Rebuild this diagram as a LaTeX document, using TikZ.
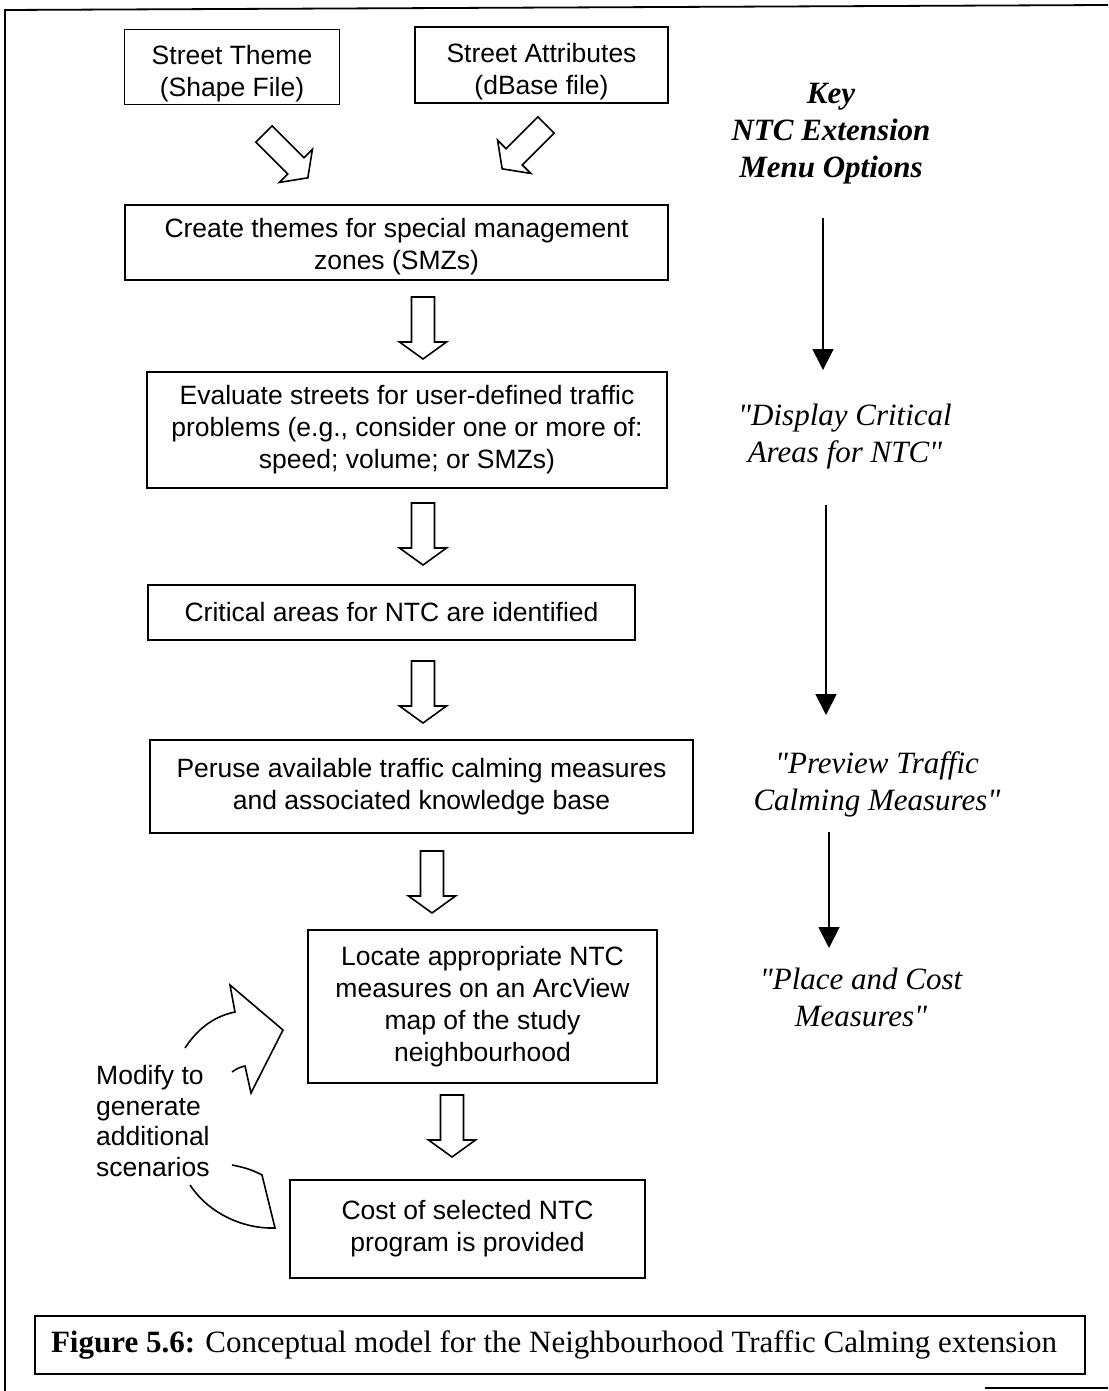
\documentclass[tikz,border=0pt]{standalone}
\usepackage{fontspec}
\setmainfont{Liberation Serif}
\newfontfamily\arialf{Liberation Sans}
\usetikzlibrary{arrows.meta}
\begin{document}
\begin{tikzpicture}[x=1pt,y=-1pt,
  box/.style={draw, line width=1.8pt, align=center, inner sep=0pt,
    font=\arialf\fontsize{26.5}{32}\selectfont},
  boxtxt/.style={align=center, inner sep=0pt, font=\arialf\fontsize{26.5}{32}\selectfont},
  keytxt/.style={align=center, font=\fontsize{31}{37}\selectfont\bfseries\itshape},
  opttxt/.style={align=center, font=\fontsize{31}{37}\selectfont\itshape},
  keyarrow/.style={line width=1.8pt, -{Triangle[length=21pt,width=21pt]}},
  hollow/.style={draw, line width=1.6pt, line join=miter},
  hdown/.pic={\draw[hollow] (-11.5,0) -- (-11.5,45) -- (-23.5,45) -- (0,62) -- (23.5,45) -- (11.5,45) -- (11.5,0) -- cycle;}
]
\useasboundingbox (0,0) rectangle (1108,1391);

% outer frame
\draw[line width=1.8pt] (5,1391) -- (5,10) -- (1108,5);
\draw[line width=1.5pt] (985,1388) -- (1108,1388);

% boxes
\node[box, minimum width=215pt, minimum height=75pt] (st) at (232,67) {};
\node[boxtxt] (stt) at ([yshift=-7pt]st.center) {Street Theme\\(Shape File)};
\node[box, minimum width=253pt, minimum height=76pt] (sa) at (541.5,65) {};
\node[boxtxt] (sat) at ([yshift=-7pt]sa.center) {Street Attributes\\(dBase file)};
\node[box, minimum width=543pt, minimum height=75pt] (ct) at (396.5,242.5) {};
\node[boxtxt] (ctt) at ([yshift=-4pt]ct.center) {Create themes for special management\\zones (SMZs)};
\node[box, minimum width=520pt, minimum height=116pt] (ev) at (407,430) {Evaluate streets for user-defined traffic\\problems (e.g., consider one or more of:\\speed; volume; or SMZs)};
\node[box, minimum width=487pt, minimum height=55pt] (cr) at (391.5,612.5) {Critical areas for NTC are identified};
\node[box, minimum width=543pt, minimum height=93pt] (pe) at (421.5,786.5) {Peruse available traffic calming measures\\and associated knowledge base};
\node[box, minimum width=349pt, minimum height=153pt] (lo) at (482.5,1006.5) {Locate appropriate NTC\\measures on an ArcView\\map of the study\\neighbourhood};
\node[box, minimum width=355pt, minimum height=98pt] (co) at (467.5,1229) {Cost of selected NTC\\program is provided};

% hollow arrows
\pic[rotate=45] at (264,134) {hdown};
\pic[rotate=-45] at (546,125) {hdown};
\pic at (423,297) {hdown};
\pic at (423,503) {hdown};
\pic at (423,661) {hdown};
\pic at (432,851) {hdown};
\pic at (452,1095) {hdown};

% curved feedback arrow
\draw[hollow] (185,1048) .. controls (198,1028) and (215,1016) .. (235,1012)
  -- (230,985) -- (283,1030) -- (251,1093) -- (245,1066)
  .. controls (240,1067) and (236,1069) .. (232,1072);
\draw[hollow] (232,1165) .. controls (243,1167) and (253,1170) .. (262,1175)
  -- (275,1228) .. controls (240,1229) and (207,1211) .. (190,1185);
\node[align=left, anchor=west, inner sep=0pt, font=\arialf\fontsize{26.5}{30.5}\selectfont] (mod) at (96,1121)
  {Modify to\\generate\\additional\\scenarios};

% right column
\node[keytxt] (key) at (831,134) {Key\\NTC Extension\\Menu Options};
\node[opttxt] (dc) at (845,437) {\textquotedbl Display Critical\\Areas for NTC\textquotedbl};
\node[opttxt] (pt) at (877,784) {\textquotedbl Preview Traffic\\Calming Measures\textquotedbl};
\node[opttxt] (pc) at (861,997) {\textquotedbl Place and Cost\\Measures\textquotedbl};
\coordinate (a1s) at (823,218); \coordinate (a1e) at (823,370);
\coordinate (a2s) at (826,505); \coordinate (a2e) at (826,715);
\coordinate (a3s) at (829,832); \coordinate (a3e) at (829,948);
\draw[keyarrow] (a1s) -- (a1e);
\draw[keyarrow] (a2s) -- (a2e);
\draw[keyarrow] (a3s) -- (a3e);

% caption
\node[draw, line width=1.8pt, minimum width=1050pt, minimum height=58pt, inner sep=0pt] (cap) at (560,1345) {};
\node[inner sep=0pt, font=\fontsize{31}{36}\selectfont] (capt) at ([xshift=-6pt]cap.center)
  {\textbf{Figure 5.6:} Conceptual model for the Neighbourhood Traffic Calming extension};
\end{tikzpicture}
\end{document}
